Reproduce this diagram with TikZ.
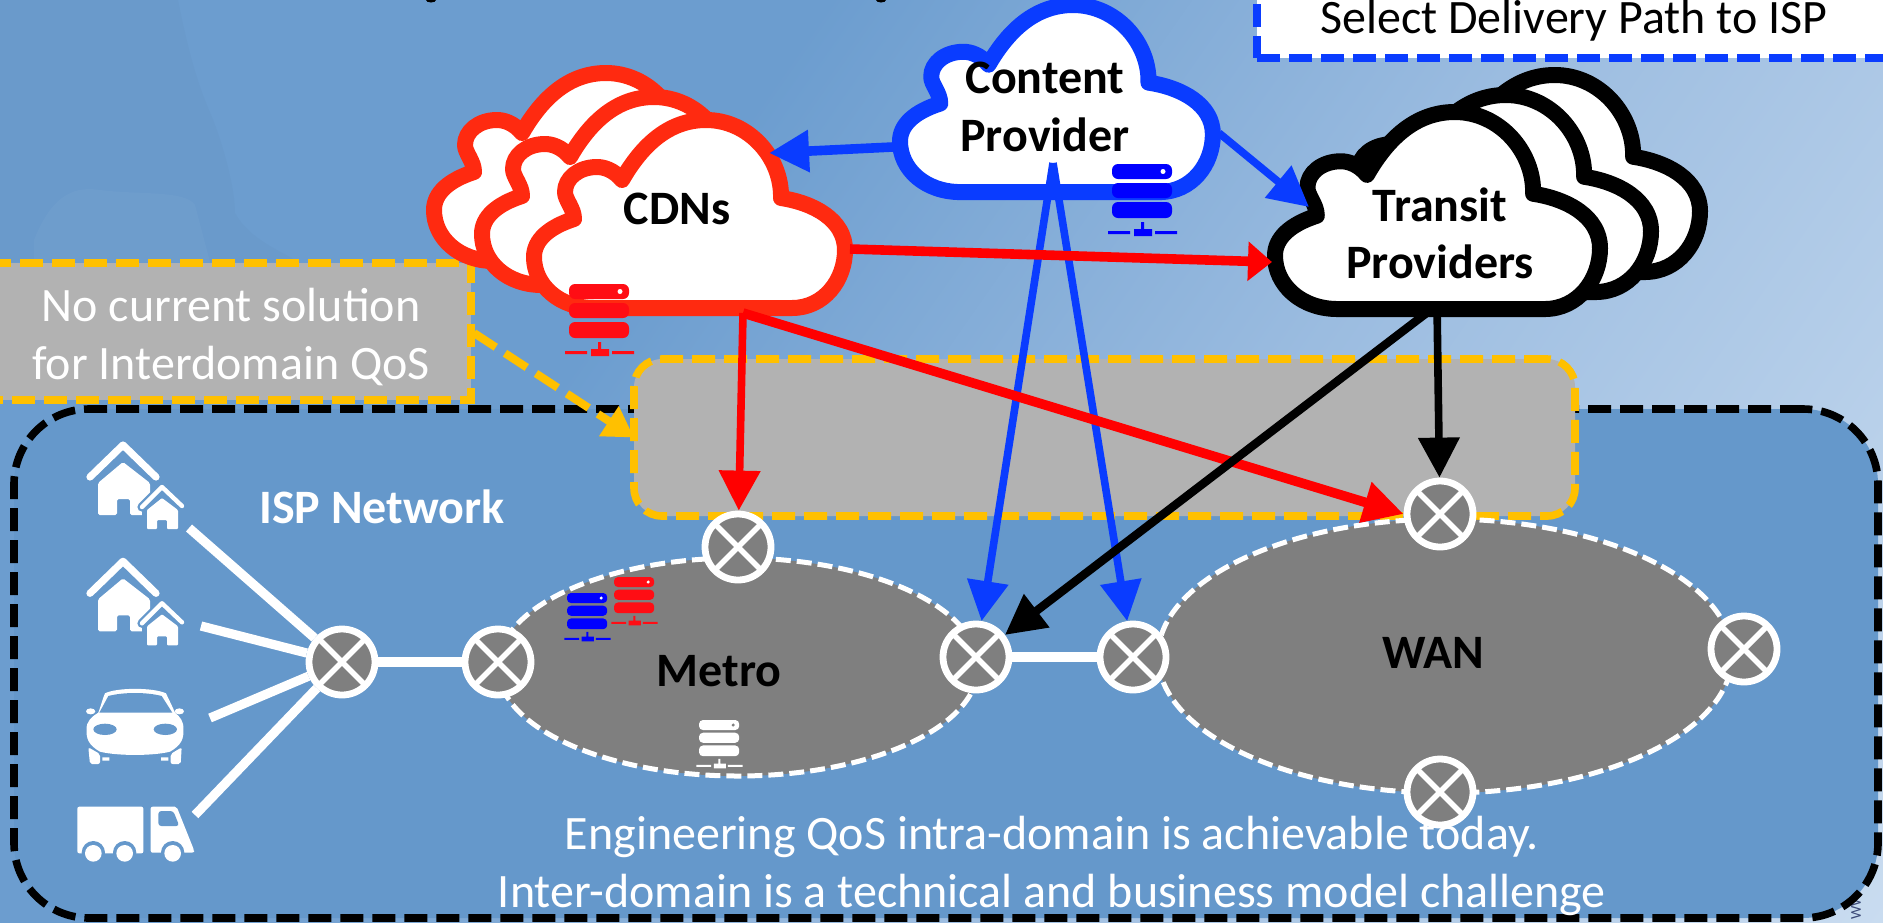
\documentclass[tikz,border=0pt]{standalone}
\usepackage{fontspec}
\setmainfont{Carlito}
\usetikzlibrary{arrows.meta,shapes.geometric}
\definecolor{ispblue}{HTML}{6598CB}
\definecolor{bgA}{HTML}{6C9DCF}
\definecolor{bgB}{HTML}{9BBCE0}
\definecolor{bgC}{HTML}{D2E2F3}
\definecolor{boxgrey}{HTML}{B2B2B2}
\definecolor{xgrey}{HTML}{7F7F7F}
\definecolor{gold}{HTML}{FFC000}
\definecolor{cloudred}{HTML}{FF2A10}
\definecolor{linkblue}{HTML}{0A3CFF}
\definecolor{srvblue}{HTML}{0000FF}
\definecolor{srvred}{HTML}{FF0D14}
\definecolor{markslate}{HTML}{3C4A78}
\pgfdeclarehorizontalshading{bgshade}{100bp}{color(0bp)=(bgA); color(38bp)=(bgA); color(58bp)=(bgB); color(90bp)=(bgC); color(100bp)=(bgC)}
\newcommand{\cloudat}[5]{%
\begin{scope}[shift={(#1,#2)},xscale=#3,yscale=#4]
\draw[draw=#5,fill=white,line width=8pt,line join=round]
 (60,188) -- (258,188)
 .. controls (290,188) and (311,160) .. (311,130)
 .. controls (311,100) and (280,83) .. (247,78)
 .. controls (248,38) and (215,0) .. (172,0)
 .. controls (135,0) and (108,25) .. (88,60)
 .. controls (80,50) and (70,47) .. (63,47)
 .. controls (45,47) and (31,58) .. (31,72)
 .. controls (31,80) and (40,88) .. (40,99)
 .. controls (15,107) and (0,120) .. (0,137)
 .. controls (0,165) and (25,188) .. (60,188) -- cycle;
\end{scope}}
\newcommand{\servericon}[5]{%
\begin{scope}[shift={(#1,#2)},scale=#3]
\fill[#4,rounded corners={3pt*#3}] (0,0) rectangle (60,15);
\fill[#4,rounded corners={3pt*#3}] (0,19) rectangle (60,34);
\fill[#4,rounded corners={3pt*#3}] (0,38) rectangle (60,54);
\fill[#5] (51,7.5) circle (2.5);
\fill[#4] (29,58) rectangle (32,65) (22,65) rectangle (40,72) (-4,67) rectangle (18,70) (43,67) rectangle (65,70);
\end{scope}}
\newcommand{\houseat}[2]{%
\begin{scope}[shift={(#1,#2)}]
\draw[white,line width=3.6pt,line cap=round,line join=round] (90,477) -- (123,445) -- (156,477);
\fill[white,rounded corners=0.8pt] (123,462) -- (98,483) -- (98,515) -- (117,515) -- (117,499) -- (130,499) -- (130,515) -- (150,515) -- (150,483) -- cycle;
\draw[ispblue,line width=4.6pt,line cap=round,line join=round] (142,507) -- (162,487) -- (182,506);
\fill[ispblue] (162,490) -- (142,510) -- (142,531) -- (182,531) -- (182,510) -- cycle;
\draw[white,line width=2.2pt,line cap=round,line join=round] (142,507) -- (162,487) -- (182,506);
\fill[white,rounded corners=0.5pt] (162,498) -- (147,510) -- (147,529) -- (157,529) -- (157,520) -- (167,520) -- (167,529) -- (178,529) -- (178,510) -- cycle;
\end{scope}}
\tikzset{
 basebox/.style={rectangle,inner sep=0pt,outer sep=0pt},
 dashbox/.style={basebox,line width=3.8pt,dash pattern=on 11.5pt off 4.5pt},
 xnode/.style={circle,draw=white,line width=3.4pt,fill=xgrey,minimum size=33pt,inner sep=0pt,
  path picture={\draw[white,line width=2.8pt] (path picture bounding box.north west)--(path picture bounding box.south east)
   (path picture bounding box.north east)--(path picture bounding box.south west);}},
 netzone/.style={ellipse,draw=white,fill=xgrey,line width=2.5pt,dash pattern=on 7.5pt off 3pt,inner sep=0pt},
 boldlabel/.style={font=\fontsize{24}{28.6}\selectfont\bfseries,align=center,inner sep=0pt},
 plainlabel/.style={font=\fontsize{24}{28.6}\selectfont,align=center,inner sep=0pt},
 whiteline/.style={white,line width=4.6pt},
 headA/.style={-{Triangle[length=20pt,width=20pt]}},
}
\begin{document}
\begin{tikzpicture}[x=0.5pt,y=-0.5pt]
\useasboundingbox (0,0) rectangle (1883,922);
\clip (0,0) rectangle (1883,922);
% background
\shade[shading=bgshade,shading angle=-35] (0,0) rectangle (1883,922);
\fill[black!30!bgA,opacity=.06] (0,0) -- (178,0) .. controls (190,60) and (200,90) .. (212,117) .. controls (225,150) and (235,190) .. (235,213) .. controls (250,240) and (280,250) .. (298,262) -- (0,262) -- cycle;
\fill[white,opacity=.03] (34,240) .. controls (50,200) and (70,185) .. (100,190) .. controls (140,195) and (185,190) .. (195,205) -- (210,262) -- (34,262) -- cycle;
\fill (431,0) ellipse (5 and 2.5);
\fill (881,0) ellipse (5 and 2.5);
\node[rotate=90,font=\fontsize{7.5}{8}\selectfont,text=markslate,inner sep=0pt] (wmark) at (1856,906) {WW};
% areas
\node[dashbox,rounded corners=37.5pt,draw=black,fill=ispblue,minimum width=932pt,minimum height=254.5pt] (isp) at (946,663.5) {};
\node[dashbox,rounded corners=14pt,draw=gold,fill=boxgrey,minimum width=470.5pt,minimum height=78.5pt] (central) at (1104.5,437.5) {};
\node[dashbox,draw=gold,fill=boxgrey,minimum width=245.5pt,minimum height=68.5pt] (leftbox) at (225.5,331.5) {};
\node[dashbox,draw=linkblue,fill=white,minimum width=321.5pt,minimum height=44pt] (selectbox) at (1578.5,14) {};
\node[netzone,minimum width=240pt,minimum height=109pt] (metro) at (738,667) {};
\node[netzone,minimum width=287pt,minimum height=137pt] (wan) at (1445,656) {};
% icons
\houseat{0}{0}
\houseat{0}{116.3}
\begin{scope}[shift={(60,670)},scale=1/3]
 \fill[white] (115,128) .. controls (125,100) and (130,80) .. (135,70) .. controls (170,52) and (280,52) .. (318,70) .. controls (325,85) and (335,105) .. (345,128) .. controls (360,140) and (372,155) .. (370,178) .. controls (372,205) and (365,225) .. (330,245) .. controls (280,258) and (170,258) .. (120,245) .. controls (85,225) and (78,205) .. (80,178) .. controls (78,155) and (95,140) .. (115,128) -- cycle;
 \fill[ispblue] (118,128) -- (145,78) .. controls (190,66) and (260,66) .. (305,78) -- (337,128) -- cycle;
 \fill[white,rounded corners=1pt] (85,232) -- (120,252) -- (120,282) -- (90,282) -- cycle;
 \fill[white,rounded corners=1pt] (365,232) -- (332,252) -- (332,282) -- (362,282) -- cycle;
 \fill[white] (127,262) rectangle (148,272) (303,262) rectangle (325,272);
 \fill[white] (92,124) ellipse (14 and 9) (358,124) ellipse (14 and 9);
 \fill[ispblue] (135,178) ellipse (35 and 17) (316,178) ellipse (35 and 17);
 % truck
 \fill[white,rounded corners=1pt] (52,410) rectangle (250,550);
 \fill[white,rounded corners=1pt] (272,410) -- (350,410) -- (402,540) -- (402,548) -- (272,548) -- cycle;
 \fill[ispblue] (100,548) circle (35) (194,548) circle (35) (338,548) circle (35);
 \fill[ispblue] (30,552) rectangle (420,590);
 \fill[white] (100,550) circle (25) (194,550) circle (25) (338,550) circle (25);
 \fill[ispblue,rounded corners=1.5pt] (295,423) -- (340,423) -- (358,468) -- (295,468) -- cycle;
\end{scope}
\servericon{567}{593}{0.67}{srvblue}{white}
\servericon{614}{577}{0.67}{srvred}{white}
\servericon{699}{720}{0.67}{white}{xgrey}
% access links
\coordinate (houseA) at (189,528);
\coordinate (houseB) at (201,626);
\coordinate (carEnd) at (210,718);
\coordinate (truckEnd) at (195,815);
\node[xnode] (n1) at (342,662) {};
\node[xnode] (n2) at (498,662) {};
\node[xnode] (n3) at (738,547) {};
\node[xnode] (n4) at (976,657) {};
\node[xnode] (n5) at (1133,657) {};
\node[xnode] (n6) at (1440,514) {};
\node[xnode] (n7) at (1744,649) {};
\node[xnode] (n8) at (1440,792) {};
\draw[whiteline] (houseA) -- (n1);
\draw[whiteline] (houseB) -- (n1);
\draw[whiteline] (carEnd) -- (n1);
\draw[whiteline] (truckEnd) -- (n1);
\draw[whiteline] (n1) -- (n2);
\draw[whiteline] (n4) -- (n5);
% clouds
\cloudat{1375}{75}{1.045}{1.048}{black}
\cloudat{1326}{95}{1.045}{1.048}{black}
\cloudat{1275}{112}{1.045}{1.048}{black}
\cloudat{434}{73}{1}{1}{cloudred}
\cloudat{482}{97}{1}{1}{cloudred}
\cloudat{534}{120}{1}{1}{cloudred}
\cloudat{900}{5}{1.006}{0.995}{linkblue}
\servericon{569}{284}{1}{srvred}{white}
\servericon{1112}{164}{1}{srvblue}{white}
% connector ends on the clouds
\coordinate (cpWest) at (893,147);
\coordinate (cdnEast) at (769,153);
\coordinate (cpEast) at (1219,133);
\coordinate (trWest) at (1309,207);
\coordinate (cpSouth) at (1053,163);
\coordinate (cdnRight) at (850,249);
\coordinate (trLeft) at (1272,262);
\coordinate (cdnSouth) at (743,313);
\coordinate (trSouth) at (1437,305);
\coordinate (leftEnd) at (474,333);
% arrows
\draw[linkblue,line width=4.8pt,headA] (cpWest) -- (cdnEast);
\draw[linkblue,line width=3.8pt,headA] (cpEast) -- (trWest);
\draw[linkblue,line width=3.8pt,headA] (cpSouth) -- (n4);
\draw[linkblue,line width=3.8pt,headA] (cpSouth) -- (n5);
\draw[red,line width=4.8pt,-{Triangle[length=12pt,width=19pt]}] (cdnRight) -- (trLeft);
\draw[red,line width=3.8pt,headA] (cdnSouth) -- (n3);
\draw[red,line width=4.8pt,headA] (cdnSouth) -- (n6.west);
\draw[black,line width=4.2pt,headA] (trSouth) -- (n4);
\draw[black,line width=3.8pt,headA] (trSouth) -- (n6);
\draw[gold,line width=4pt,dash pattern=on 13pt off 5.5pt,-{Triangle[length=15pt,width=17pt]}] (leftEnd) -- (central.west);
% labels
\node[boldlabel] (lcdn) at (677,209) {CDNs};
\node[boldlabel] (lcp) at (1045,107) {Content\\Provider};
\node[boldlabel] (ltr) at (1440,233) {Transit\\Providers};
\node[boldlabel] (lmetro) at (719,671) {Metro};
\node[boldlabel] (lwan) at (1433,653) {WAN};
\node[boldlabel,text=white] (lisp) at (382,507) {ISP Network};
\node[plainlabel,text=white] (lleft) at (231,337) {No current solution\\for Interdomain QoS};
\node[plainlabel] (lsel) at (1574,21) {Select Delivery Path to ISP};
\node[plainlabel,text=white] (lfoot) at (1052,866) {Engineering QoS intra-domain is achievable today.\\Inter-domain is a technical and business model challenge};
\end{tikzpicture}
\end{document}
